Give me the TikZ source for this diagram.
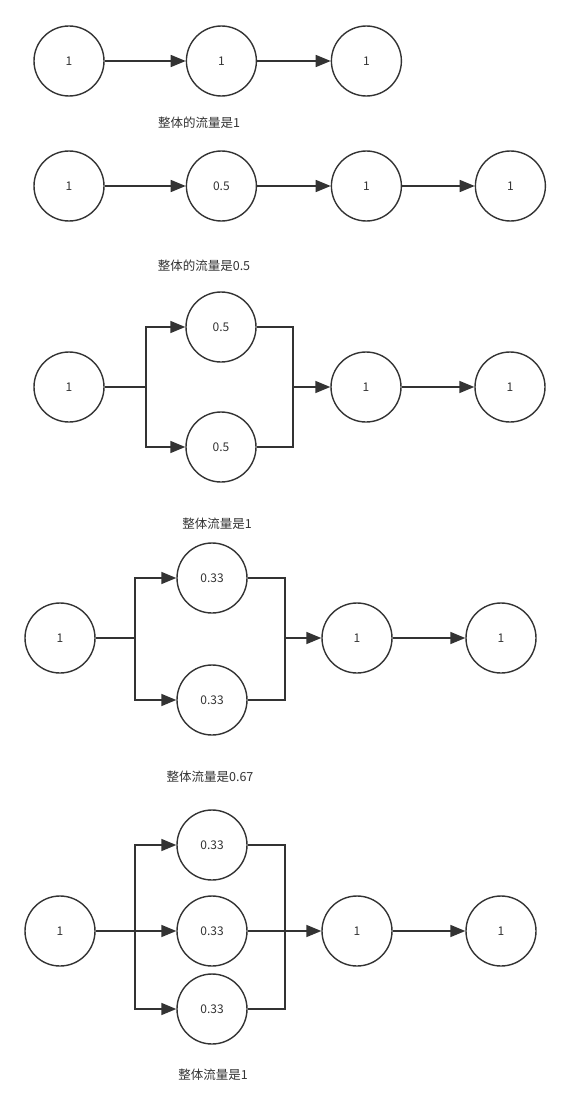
\documentclass[tikz,border=0pt]{standalone}
\usepackage{fontspec}
\setmainfont{Noto Sans CJK SC}
\usetikzlibrary{arrows.meta,positioning}
\definecolor{Ink}{HTML}{333333}
\tikzset{
 ball/.style={circle,draw=Ink,line width=1.4pt,minimum size=70pt,inner sep=0pt,font=\fontsize{12}{14}\selectfont,text=Ink},
 note/.style={font=\fontsize{12.5}{14}\selectfont,text=Ink,inner sep=0pt},
 wire/.style={draw=Ink,line width=1.6pt},
 arr/.style={wire,-{Triangle[length=15pt,width=12pt]}}
}
\begin{document}
\begin{tikzpicture}[x=1pt,y=-1pt]
\useasboundingbox (0,0) rectangle (570,1118);
% series, three stages
\node[ball] (r1a) at (69,61) {1};
\node[ball,right=81pt of r1a] (r1b) {1};
\node[ball,right=73.6pt of r1b] (r1c) {1};
\draw[arr] (r1a)--(r1b);\draw[arr] (r1b)--(r1c);
\node[note] (t1) at (199,123) {整体的流量是1};
% series, one slow stage
\node[ball] (r2a) at (69,186) {1};
\node[ball,right=81pt of r2a] (r2b) {0.5};
\node[ball,right=73.6pt of r2b] (r2c) {1};
\node[ball,right=72.6pt of r2c] (r2d) {1};
\draw[arr] (r2a)--(r2b);\draw[arr] (r2b)--(r2c);\draw[arr] (r2c)--(r2d);
\node[note] (t2) at (204,266) {整体的流量是0.5};
% two in parallel
\node[ball] (r3a) at (69,387) {1};
\node[ball] (r3u) at (221,327) {0.5};
\node[ball] (r3l) at (221,447) {0.5};
\node[ball] (r3c) at (366,387) {1};
\node[ball,right=72.6pt of r3c] (r3d) {1};
\coordinate (j3) at (146,387);
\coordinate (k3) at (293,387);
\draw[wire] (r3a)--(j3);
\draw[arr] (j3)|-(r3u);\draw[arr] (j3)|-(r3l);
\draw[wire] (r3u)-|(k3);\draw[wire] (r3l)-|(k3);
\draw[arr] (k3)--(r3c);\draw[arr] (r3c)--(r3d);
\node[note] (t3) at (217,524) {整体流量是1};
% two in parallel, slower
\node[ball] (r4a) at (60,638) {1};
\node[ball] (r4u) at (212,578) {0.33};
\node[ball] (r4l) at (212,700) {0.33};
\node[ball] (r4c) at (357,638) {1};
\node[ball,right=72.6pt of r4c] (r4d) {1};
\coordinate (j4) at (135,638);
\coordinate (k4) at (285,638);
\draw[wire] (r4a)--(j4);
\draw[arr] (j4)|-(r4u);\draw[arr] (j4)|-(r4l);
\draw[wire] (r4u)-|(k4);\draw[wire] (r4l)-|(k4);
\draw[arr] (k4)--(r4c);\draw[arr] (r4c)--(r4d);
\node[note] (t4) at (210,777) {整体流量是0.67};
% three in parallel
\node[ball] (r5a) at (60,931) {1};
\node[ball] (r5u) at (212,845) {0.33};
\node[ball] (r5m) at (212,931) {0.33};
\node[ball] (r5l) at (212,1009) {0.33};
\node[ball] (r5c) at (357,931) {1};
\node[ball,right=72.6pt of r5c] (r5d) {1};
\coordinate (j5) at (135,931);
\coordinate (k5) at (285,931);
\draw[wire] (r5a)--(j5);
\draw[arr] (j5)|-(r5u);\draw[arr] (j5)--(r5m);\draw[arr] (j5)|-(r5l);
\draw[wire] (r5u)-|(k5);\draw[wire] (r5m)--(k5);\draw[wire] (r5l)-|(k5);
\draw[arr] (k5)--(r5c);\draw[arr] (r5c)--(r5d);
\node[note] (t5) at (213,1075) {整体流量是1};
\end{tikzpicture}
\end{document}
